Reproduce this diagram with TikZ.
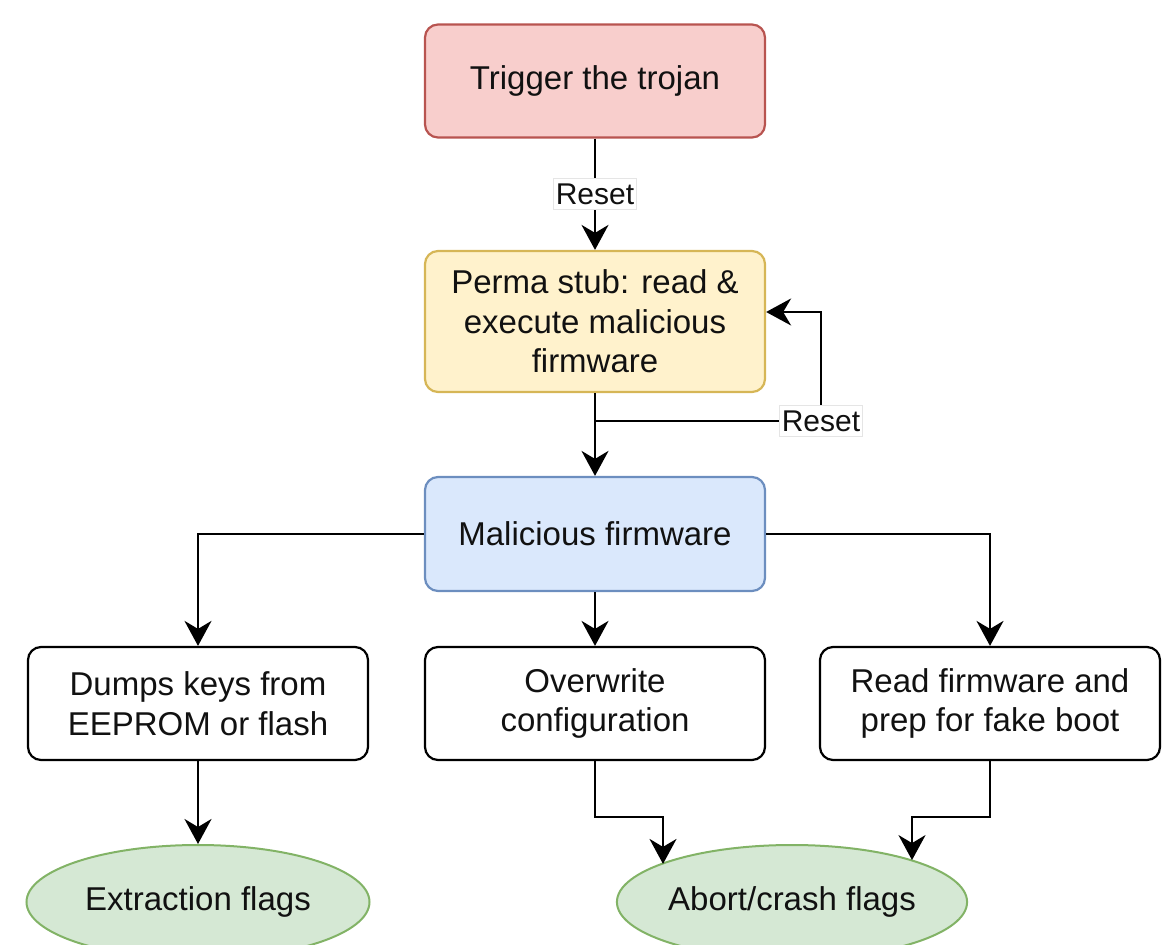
\documentclass[tikz,border=0pt]{standalone}
\usepackage{fontspec}
\setmainfont{Liberation Sans}
\usetikzlibrary{arrows.meta,shapes.geometric}

\definecolor{redfill}{HTML}{F8CECC}
\definecolor{redline}{HTML}{B85450}
\definecolor{yelfill}{HTML}{FFF2CC}
\definecolor{yelline}{HTML}{D6B656}
\definecolor{bluefill}{HTML}{DAE8FC}
\definecolor{blueline}{HTML}{6C8EBF}
\definecolor{grnfill}{HTML}{D5E8D4}
\definecolor{grnline}{HTML}{82B366}
\definecolor{txt}{HTML}{111111}

\newcommand{\boxfont}{\fontsize{16.5}{19.8}\selectfont}
\newcommand{\lblfont}{\fontsize{15}{18}\selectfont}

\begin{document}
\begin{tikzpicture}[x=0.5pt,y=-0.5pt,
  stepbox/.style={draw, rounded corners=6.5pt, line width=1.1pt, minimum width=170pt,
    inner sep=2pt, align=center, font=\boxfont, text=txt},
  flagnode/.style={ellipse, draw=grnline, fill=grnfill, line width=1pt, inner sep=0pt,
    minimum width=171.5pt, minimum height=57pt, font=\boxfont, text=txt},
  arr/.style={line width=1.15pt, -{Stealth[length=12.5pt,width=13.5pt,inset=4pt]}},
  lbl/.style={fill=white, draw=gray!20, line width=0.4pt, inner xsep=1pt, inner ysep=2.5pt,
    font=\lblfont, text=txt}]

\useasboundingbox (0,0) rectangle (1170,945);
\clip (0,0) rectangle (1170,945);

% process steps
\node[stepbox, draw=redline, fill=redfill, minimum height=56.5pt] (trig) at (595,81) {Trigger the trojan};
\node[stepbox, draw=yelline, fill=yelfill, minimum height=70.5pt] (perma) at (595,321.5)
  {Perma stub: read \&\\execute malicious\\firmware};
\node[stepbox, draw=blueline, fill=bluefill, minimum height=57pt] (mal) at (595,534) {Malicious firmware};

\node[stepbox, minimum height=56.5pt] (dump) at (198,703.5) {Dumps keys from\\EEPROM or flash};
\node[stepbox, minimum height=56.5pt] (over) at (595,703.5) {Overwrite\\configuration};
\node[stepbox, minimum height=56.5pt] (read) at (990,703.5) {Read firmware and\\prep for fake boot};

% outcome flags
\node[flagnode] (ext) at (198,902) {Extraction flags};
\node[flagnode] (abort) at (792,902) {Abort/crash flags};

% trigger -> stub
\draw[arr] (trig.south) -- node[lbl] {Reset} (perma.north);

% stub -> firmware, with reset loop back to the stub
\coordinate (loopj) at (595,421);
\coordinate (loopc) at (821,421);
\draw[arr] (perma.south) -- (mal.north);
\draw[arr] (loopj) -- (loopc) |- ([yshift=4.75pt]perma.east);
\node[lbl] (rst) at (loopc) {Reset};

% firmware -> actions
\draw[arr] (mal.west) -| (dump.north);
\draw[arr] (mal.south) -- (over.north);
\draw[arr] (mal.east) -| (read.north);

% actions -> flags
\draw[arr] (dump.south) -- (ext.north);
\coordinate (oj) at (663,817);
\coordinate (rj) at (912,817);
\draw[arr] (over.south) |- (oj) -- (oj |- abort.164);
\draw[arr] (read.south) |- (rj) -- (rj |- abort.19);

\end{tikzpicture}
\end{document}
